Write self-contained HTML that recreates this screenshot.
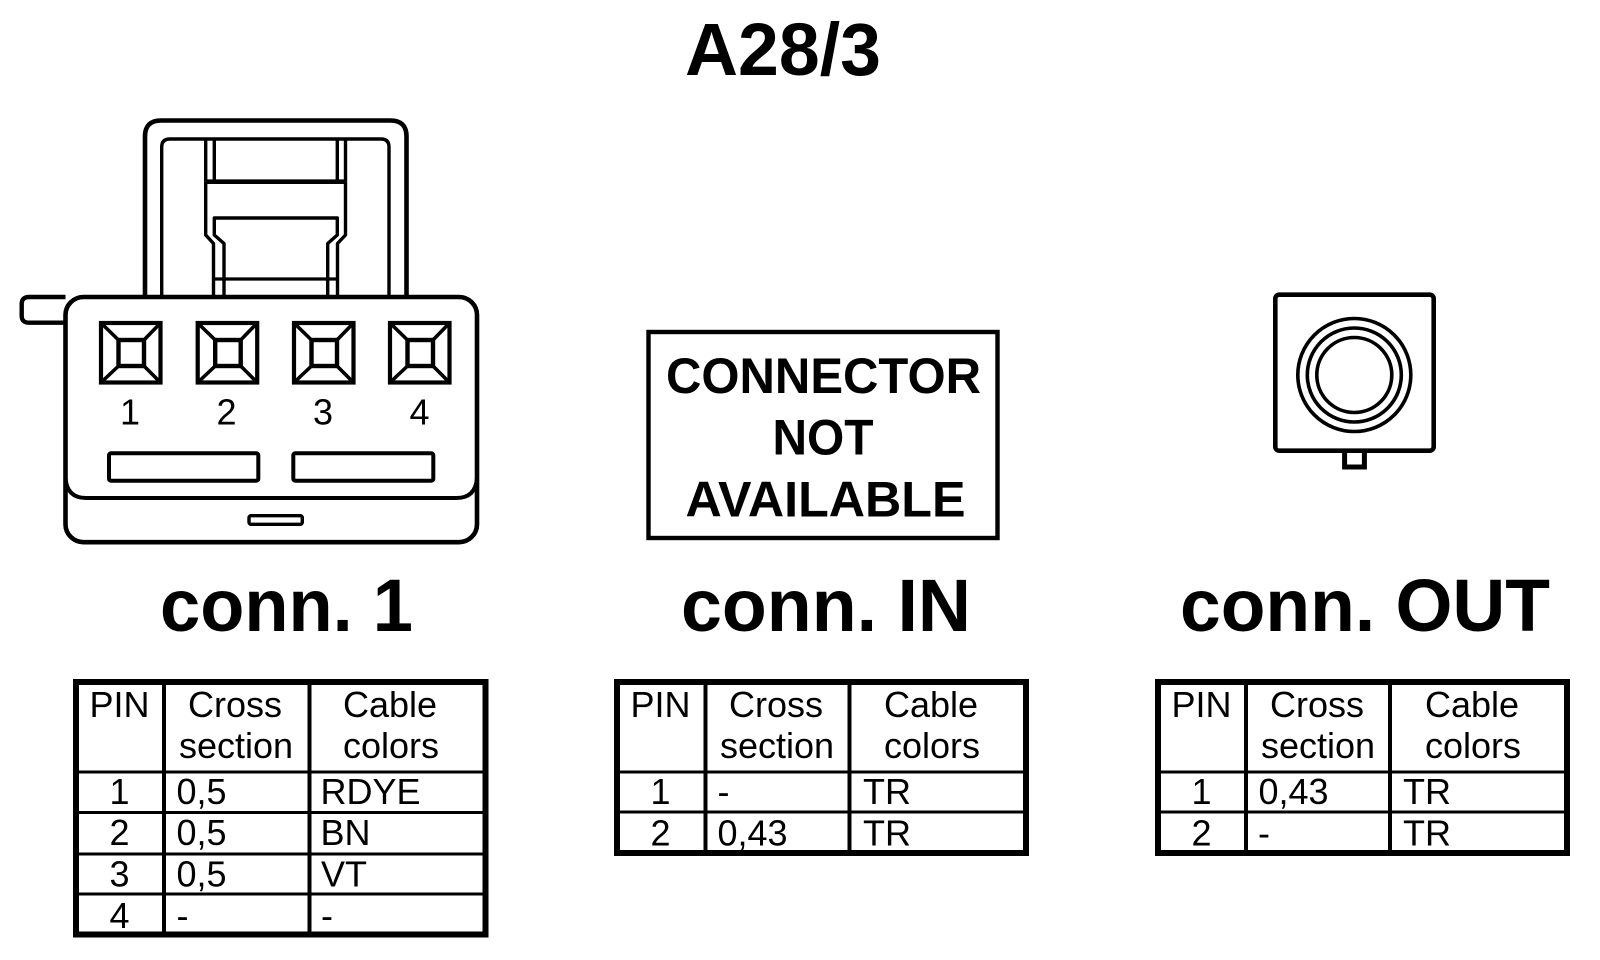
<!DOCTYPE html>
<html><head><meta charset="utf-8"><title>A28/3</title>
<style>html,body{margin:0;padding:0;background:#fff}svg{display:block}
text{font-family:"Liberation Sans",Arial,sans-serif;fill:#000}
.t{font-size:36px}.h{font-size:74px;font-weight:bold}.c{font-size:50px;font-weight:bold}
.m{text-anchor:middle}</style></head><body>
<svg xmlns="http://www.w3.org/2000/svg" width="1600" height="960" viewBox="0 0 1600 960">
<rect width="1600" height="960" fill="#fff"/>
<defs>
<g id="sq" fill="none" stroke="#000" stroke-width="3.6">
<rect x="0" y="0" width="59.5" height="59.5" stroke-width="4.2"/>
<rect x="17.5" y="17" width="25.5" height="26" stroke-width="4.4"/>
<path d="M0 0L17.5 17M59.5 0L43 17M0 59.5L17.5 43M59.5 59.5L43 43"/>
</g>
</defs>
<text x="685" y="75" class="h" textLength="196" lengthAdjust="spacingAndGlyphs">A28/3</text>

<!-- connector 1 -->
<g fill="none" stroke="#000" stroke-linejoin="round">
<path d="M145 297V136.5Q145 120.5 161 120.5H390.5Q406.5 120.5 406.5 136.5V297" stroke-width="4.6"/>
<path d="M161.7 297V147Q161.7 139 170 139H381Q389 139 389 147V297" stroke-width="3.4"/>
<path d="M205.7 139V181.7M214.3 139V181.7M337.3 139V181.7M345.5 139V181.7" stroke-width="3.4"/>
<path d="M205.7 181.7H345.5" stroke-width="4.6"/>
<path d="M205.7 181.7V235L213.5 243.5V297M345.5 181.7V235L337.5 243.5V297" stroke-width="3.4"/>
<path d="M224 297V243.5L214.3 235V218H337.3V235L327.7 243.5V297" stroke-width="3.4"/>
<path d="M213.5 279H337.5" stroke-width="3.2"/>
<path d="M65.5 297H29Q21.7 297 21.7 304V315.7Q21.7 322.7 29 322.7H65.5" stroke-width="4.4"/>
<rect x="65.5" y="297" width="411.5" height="245.2" rx="18" fill="#fff" stroke-width="4.6"/>
<path d="M65.5 478Q67 498 86 498H456.5Q475.5 498 477 478" stroke-width="4"/>
<rect x="109" y="453.3" width="149.3" height="27.4" rx="2" stroke-width="4"/>
<rect x="293.3" y="453.3" width="140" height="27.4" rx="2" stroke-width="4"/>
<rect x="249" y="515.7" width="53.3" height="8.6" rx="2" stroke-width="3.4"/>
</g>
<use href="#sq" x="101" y="323"/><use href="#sq" x="197.7" y="323"/><use href="#sq" x="294" y="323"/><use href="#sq" x="390" y="323"/>
<g class="t m"><text x="130" y="424.5">1</text><text x="226.5" y="424.5">2</text><text x="323" y="424.5">3</text><text x="419.5" y="424.5">4</text></g>

<!-- not available box -->
<rect x="648.5" y="332" width="349" height="206" fill="none" stroke="#000" stroke-width="4.4"/>
<text x="666" y="393" class="c" textLength="315" lengthAdjust="spacingAndGlyphs">CONNECTOR</text>
<text x="772.5" y="454.5" class="c" textLength="101" lengthAdjust="spacingAndGlyphs">NOT</text>
<text x="685.5" y="516.7" class="c" textLength="280" lengthAdjust="spacingAndGlyphs">AVAILABLE</text>

<!-- OUT connector -->
<g fill="none" stroke="#000">
<rect x="1275.3" y="294.7" width="158.4" height="156" rx="4" stroke-width="4.6"/>
<circle cx="1354.3" cy="375" r="56.5" stroke-width="3.6"/>
<circle cx="1354.3" cy="375" r="47" stroke-width="3.6"/>
<circle cx="1354.3" cy="375" r="37.5" stroke-width="3.6"/>
<path d="M1344.6 452V467H1364.4V452" stroke-width="5"/>
</g>

<text x="160" y="631" class="h" textLength="253" lengthAdjust="spacingAndGlyphs">conn. 1</text>
<text x="681" y="631" class="h" textLength="290" lengthAdjust="spacingAndGlyphs">conn. IN</text>
<text x="1180" y="631" class="h" textLength="370" lengthAdjust="spacingAndGlyphs">conn. OUT</text>

<!-- table 1 -->
<g fill="none" stroke="#000" shape-rendering="crispEdges">
<rect x="76" y="682" width="409.5" height="252.5" stroke-width="5.6"/>
<path d="M164 682V934M309.5 682V934" stroke-width="3.6"/>
<path d="M76 772H485M76 812.5H485M76 854H485M76 894H485" stroke-width="3.4"/>
</g>
<g class="t">
<text x="89.5" y="717">PIN</text><text x="188" y="717">Cross</text><text x="179" y="758">section</text><text x="343" y="717">Cable</text><text x="343" y="758">colors</text>
<g class="m"><text x="119.5" y="804">1</text><text x="119.5" y="845">2</text><text x="119.5" y="886.5">3</text><text x="119.5" y="928">4</text></g>
<text x="176.5" y="804">0,5</text><text x="176.5" y="845">0,5</text><text x="176.5" y="886.5">0,5</text><text x="176.5" y="928">-</text>
<text x="320.5" y="804">RDYE</text><text x="320.5" y="845">BN</text><text x="321" y="886.5">VT</text><text x="321" y="928">-</text>
</g>

<!-- table 2 -->
<g fill="none" stroke="#000" shape-rendering="crispEdges">
<rect x="617" y="682" width="409" height="171" stroke-width="5.6"/>
<path d="M705.5 682V853M849.5 682V853" stroke-width="3.6"/>
<path d="M617 772H1025M617 812H1025" stroke-width="3.4"/>
</g>
<g class="t">
<text x="630.5" y="717">PIN</text><text x="729" y="717">Cross</text><text x="720" y="758">section</text><text x="884" y="717">Cable</text><text x="884" y="758">colors</text>
<g class="m"><text x="660.5" y="804">1</text><text x="660.5" y="845.5">2</text></g>
<text x="717.5" y="804">-</text><text x="717.5" y="845.5">0,43</text>
<text x="863" y="804">TR</text><text x="863" y="845.5">TR</text>
</g>

<!-- table 3 -->
<g fill="none" stroke="#000" shape-rendering="crispEdges">
<rect x="1158" y="682" width="409" height="171" stroke-width="5.6"/>
<path d="M1246 682V853M1390 682V853" stroke-width="3.6"/>
<path d="M1158 772H1566M1158 812H1566" stroke-width="3.4"/>
</g>
<g class="t">
<text x="1171.5" y="717">PIN</text><text x="1270" y="717">Cross</text><text x="1261" y="758">section</text><text x="1425" y="717">Cable</text><text x="1425" y="758">colors</text>
<g class="m"><text x="1201.5" y="804">1</text><text x="1201.5" y="845.5">2</text></g>
<text x="1258.5" y="804">0,43</text><text x="1258" y="845.5">-</text>
<text x="1403" y="804">TR</text><text x="1403" y="845.5">TR</text>
</g>
</svg>
</body></html>
